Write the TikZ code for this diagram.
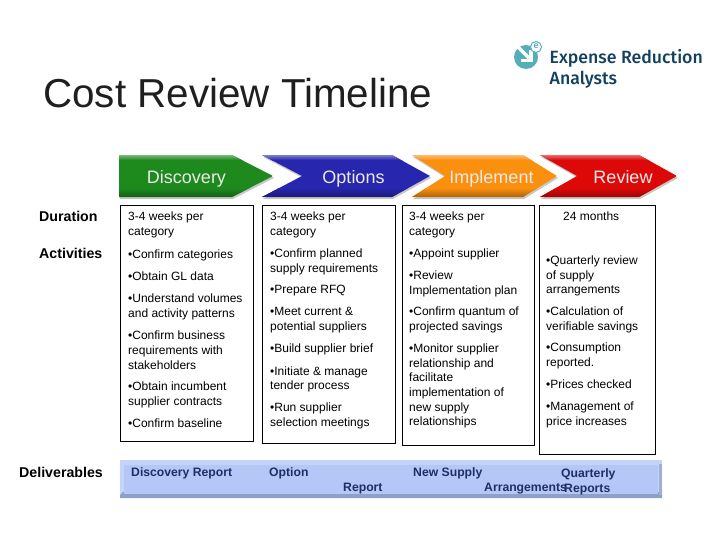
\documentclass[tikz,border=0pt]{standalone}
\usepackage{fontspec}
\setmainfont{Liberation Sans}
\newfontfamily\logofont{Fira Sans Medium}
\usetikzlibrary{positioning}
\definecolor{grn}{HTML}{1E8A1E}
\definecolor{blu}{HTML}{2626AE}
\definecolor{org}{HTML}{FB8F0E}
\definecolor{rd}{HTML}{DD0808}
\definecolor{barfill}{HTML}{B4C7F6}
\definecolor{barink}{HTML}{1F2F66}
\definecolor{logoteal}{HTML}{55AEB8}
\definecolor{logoink}{HTML}{12405F}
\tikzset{
	steplabel/.style={anchor=base,inner sep=0pt,text=white!92!black,font=\fontsize{18}{20}\selectfont},
	sidelabel/.style={anchor=west,font=\fontsize{14.2}{16}\selectfont\bfseries},
	weekbox/.style={draw,line width=0.9pt,fill=white,anchor=north west},
	weektext/.style={anchor=north west,inner sep=0pt,align=left,font=\fontsize{12}{14.7}\selectfont},
	barlabel/.style={text=barink,anchor=base west,inner sep=0pt,font=\fontsize{12.2}{15}\selectfont\bfseries},
}
\begin{document}
\begin{tikzpicture}[x=1pt,y=-1pt]
	\useasboundingbox (0,0) rectangle (728,546);
	\node (title) [anchor=west,inner sep=0pt,text=black!88,font=\fontsize{40.4}{44}\selectfont] at (43,93) {Cost Review Timeline};
	% logo
	\fill[logoteal] (526,57) circle (12);
	\draw[white,line width=3.5pt] (518,47) -- (529,58);
	\draw[white,line width=3.5pt] (531,50) -- (531,60.5) -- (521,60.5);
	\draw[logoteal,fill=white,line width=1pt] (536,47) circle (5.5);
	\node (logoe) [text=logoteal,inner sep=0pt,font=\fontsize{9}{9}\selectfont\bfseries] at (536,46.5) {e};
	\node (logotext) [anchor=north west,inner sep=0pt,align=left,text=logoink,font=\fontsize{17.7}{21.5}\logofont\selectfont] at (549.5,49) {Expense Reduction\\Analysts};
	% chevrons
	\foreach \a/\n/\s/\t/\c in {119/119/232/273/grn,262/302/392/430/blu,412/445/523/557/org,540/577/639/677/rd} {
		\fill[black,opacity=.22] (\a+1,157) -- (\s+1,157) -- (\t+1,178) -- (\s+1,199) -- (\a+1,199) -- (\n+1,178) -- cycle;
		\begin{scope}
			\clip (\a,155) -- (\s,155) -- (\t,176) -- (\s,197) -- (\a,197) -- (\n,176) -- cycle;
			\fill[\c] (\a,155) rectangle (\t,197);
			\shade[top color=\c!60!white,bottom color=\c] (\a,155) rectangle (\t,160);
			\shade[top color=\c,bottom color=\c!70!black] (\a,188) rectangle (\t,197);
		\end{scope}
	}
	\node (discovery) [steplabel] at (186.5,183) {Discovery};
	\node (options) [steplabel] at (353.5,183) {Options};
	\node (implement) [steplabel] at (491.5,183) {Implement};
	\node (review) [steplabel] at (623,183) {Review};
	% boxes
	\node (box1) [weekbox,minimum width=133pt,minimum height=236pt] at (120,205) {};
	\node (box2) [weekbox,minimum width=133pt,minimum height=238pt] at (262,205) {};
	\node (box3) [weekbox,minimum width=132pt,minimum height=240pt] at (402,205) {};
	\node (box4) [weekbox,minimum width=116pt,minimum height=249pt] at (539,205) {};
	\node (text1) [weektext] at (128,211.5) {3-4 weeks per\\category\\[8.5pt]
		•Confirm categories\\[7.5pt]
		•Obtain GL data\\[7.5pt]
		•Understand volumes\\and activity patterns\\[7.5pt]
		•Confirm business\\requirements with\\stakeholders\\[7pt]
		•Obtain incumbent\\supplier contracts\\[7.5pt]
		•Confirm baseline};
	\node (text2) [weektext] at (270,211.5) {3-4 weeks per\\category\\[7.5pt]
		•Confirm planned\\supply requirements\\[7pt]
		•Prepare RFQ\\[7.5pt]
		•Meet current \&\\potential suppliers\\[7.5pt]
		•Build supplier brief\\[7.5pt]
		•Initiate \& manage\\tender process\\[7.5pt]
		•Run supplier\\selection meetings};
	\node (text3) [weektext] at (409,211.5) {3-4 weeks per\\category\\[7.5pt]
		•Appoint supplier\\[7.5pt]
		•Review\\Implementation plan\\[7pt]
		•Confirm quantum of\\projected savings\\[7pt]
		•Monitor supplier\\relationship and\\facilitate\\implementation of\\new supply\\relationships};
	\node (months) [weektext] at (563,211.5) {24 months};
	\node (text4) [weektext] at (546,255.5) {•Quarterly review\\of supply\\arrangements\\[7pt]
		•Calculation of\\verifiable savings\\[7pt]
		•Consumption\\reported.\\[7pt]
		•Prices checked\\[7.5pt]
		•Management of\\price increases};
	% side labels
	\node (duration) [sidelabel,inner sep=0pt] at (39,216) {Duration};
	\node (activities) [sidelabel,inner sep=0pt] at (39,253) {Activities};
	\node (deliverables) [sidelabel,inner sep=0pt] at (19,472) {Deliverables};
	% deliverables bar
	\fill[barfill!78!white] (120,460) rectangle (662,498);
	\fill[barfill!80!black] (120,495) -- (123,492) -- (659,492) -- (662,489) -- (662,498) -- (120,498) -- cycle;
	\fill[barfill!88!black] (659,464) rectangle (662,495);
	\fill[barfill] (124,465) rectangle (658,494);
	\node (rep1) [barlabel] at (131,476) {Discovery Report};
	\node (rep2) [barlabel] at (269,476) {Option};
	\node (rep2b) [barlabel] at (343,491.5) {Report};
	\node (rep3) [barlabel] at (413,476) {New Supply};
	\node (rep3b) [barlabel] at (484,491.5) {Arrangements};
	\node (rep4) [barlabel] at (561,477) {Quarterly};
	\node (rep4b) [barlabel] at (564,492) {Reports};
\end{tikzpicture}
\end{document}
